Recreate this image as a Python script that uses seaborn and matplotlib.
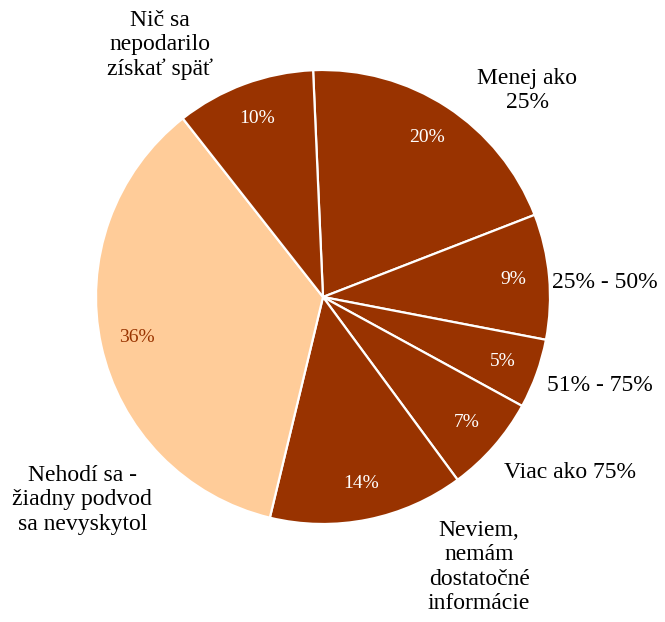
import matplotlib
matplotlib.use('Agg')
import matplotlib.pyplot as plt
import seaborn as sns

# data, clockwise from the top
labels = ['Menej ako\n25%', '25% - 50%', '51% - 75%', 'Viac ako 75%',
          'Neviem,\nnemám\ndostatočné\ninformácie',
          'Nehodí sa -\nžiadny podvod\nsa nevyskytol',
          'Nič sa\nnepodarilo\nzískať späť']
values = [20, 9, 5, 7, 14, 36, 10]

dark = '#993300'
light = '#FFCC99'
colors = [dark, dark, dark, dark, dark, light, dark]

# label anchor points (in pie radius units), layout only
label_pos = [(0.90, 0.91), (1.24, 0.066), (1.22, -0.388), (1.088, -0.775),
             (0.688, -1.19), (-1.06, -0.894), (-0.718, 1.11)]

sns.set_theme(style='white')
plt.rcParams['font.family'] = ['Liberation Serif', 'DejaVu Serif']

fig = plt.figure(figsize=(6.65, 6.22), dpi=100)
ax = fig.add_axes([0, 0, 1, 1])

wedges, texts, autotexts = ax.pie(
    values, colors=colors, startangle=92.5, counterclock=False,
    autopct=lambda p: f'{p:.0f}%', pctdistance=0.84,
    wedgeprops=dict(edgecolor='white', linewidth=1.6),
    textprops=dict(fontsize=14))

for t, c in zip(autotexts, colors):
    t.set_color('white' if c == dark else dark)

for lab, (x, y) in zip(labels, label_pos):
    ax.text(x, y, lab, ha='center', va='center', multialignment='center',
            fontsize=17, color='black', linespacing=1.22)

ax.set_xlim(-323 / 227, (665 - 323) / 227)
ax.set_ylim(-(622 - 297) / 227, 297 / 227)
ax.axis('off')

fig.savefig('out.png', dpi=100, facecolor='white')
